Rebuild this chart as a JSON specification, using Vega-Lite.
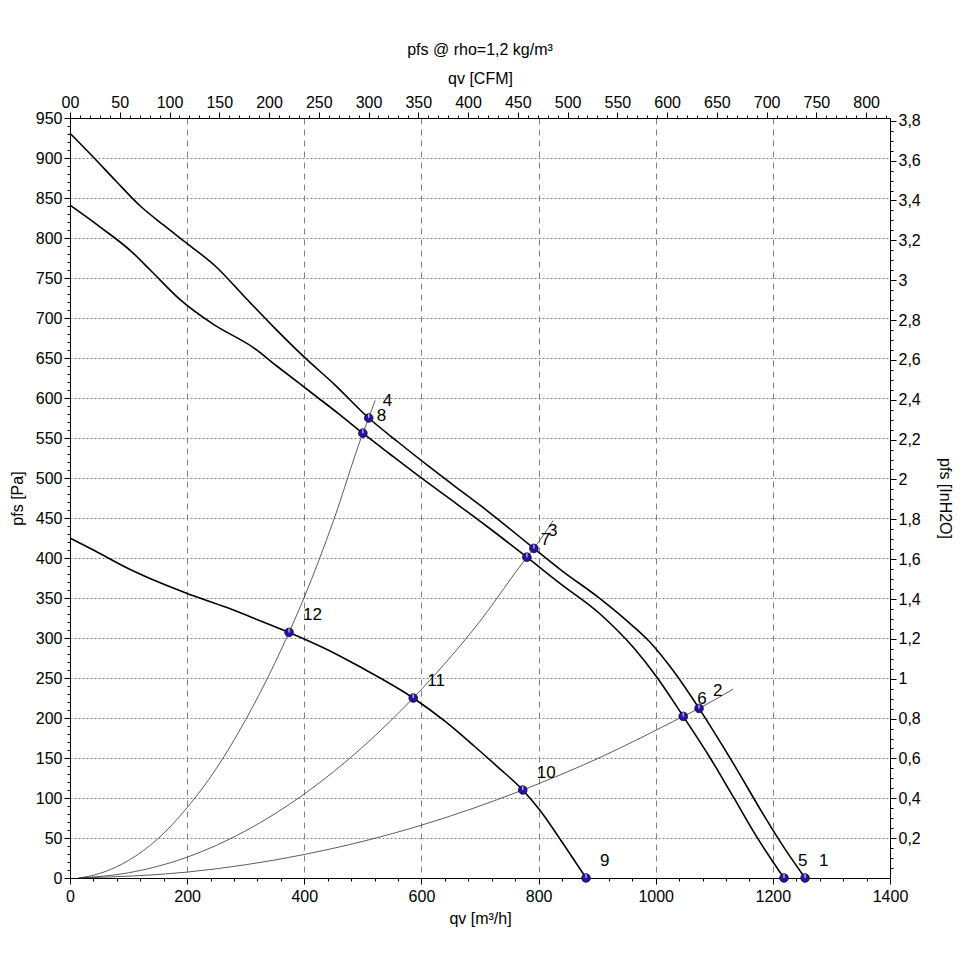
{
  "$schema": "https://vega.github.io/schema/vega-lite/v6.json",
  "width": 820,
  "height": 760,
  "autosize": {"type": "none"},
  "padding": {"left": 70, "top": 118, "right": 75, "bottom": 86},
  "background": "white",
  "title": {"text": "pfs @ rho=1,2 kg/m³", "font": "Liberation Sans", "fontSize": 16, "fontWeight": "normal", "color": "black", "offset": 12, "anchor": "middle"},
  "config": {
    "view": {"stroke": null},
    "axis": {"labelFont": "Liberation Sans", "titleFont": "Liberation Sans", "labelFontSize": 16, "titleFontSize": 16, "titleFontWeight": "normal", "labelColor": "black", "titleColor": "black", "domainColor": "black", "tickColor": "black", "domainWidth": 1, "tickWidth": 1, "labelOverlap": false, "labelFlush": false}
  },
  "datasets": {
    "fan": [
      {"id": "A", "q": 0, "p": 931}, {"id": "A", "q": 40, "p": 901}, {"id": "A", "q": 80, "p": 870}, {"id": "A", "q": 120, "p": 840}, {"id": "A", "q": 160, "p": 816}, {"id": "A", "q": 200, "p": 793}, {"id": "A", "q": 248, "p": 765}, {"id": "A", "q": 300, "p": 725}, {"id": "A", "q": 350, "p": 687}, {"id": "A", "q": 400, "p": 651}, {"id": "A", "q": 450, "p": 618}, {"id": "A", "q": 510, "p": 575}, {"id": "A", "q": 560, "p": 545}, {"id": "A", "q": 610, "p": 516}, {"id": "A", "q": 660, "p": 488}, {"id": "A", "q": 700, "p": 466}, {"id": "A", "q": 750, "p": 437}, {"id": "A", "q": 792, "p": 412}, {"id": "A", "q": 840, "p": 384}, {"id": "A", "q": 900, "p": 352}, {"id": "A", "q": 950, "p": 322}, {"id": "A", "q": 990, "p": 295}, {"id": "A", "q": 1030, "p": 259}, {"id": "A", "q": 1074, "p": 212}, {"id": "A", "q": 1100, "p": 182}, {"id": "A", "q": 1140, "p": 134}, {"id": "A", "q": 1180, "p": 84}, {"id": "A", "q": 1220, "p": 37}, {"id": "A", "q": 1255, "p": 0},
      {"id": "B", "q": 0, "p": 841}, {"id": "B", "q": 51, "p": 814}, {"id": "B", "q": 105, "p": 783}, {"id": "B", "q": 137, "p": 760}, {"id": "B", "q": 188, "p": 723}, {"id": "B", "q": 245, "p": 692}, {"id": "B", "q": 313, "p": 663}, {"id": "B", "q": 353, "p": 640}, {"id": "B", "q": 415, "p": 605}, {"id": "B", "q": 461, "p": 579}, {"id": "B", "q": 500, "p": 556}, {"id": "B", "q": 546, "p": 530}, {"id": "B", "q": 598, "p": 501}, {"id": "B", "q": 654, "p": 471}, {"id": "B", "q": 711, "p": 440}, {"id": "B", "q": 780, "p": 401}, {"id": "B", "q": 837, "p": 368}, {"id": "B", "q": 905, "p": 330}, {"id": "B", "q": 962, "p": 288}, {"id": "B", "q": 1002, "p": 251}, {"id": "B", "q": 1047, "p": 202}, {"id": "B", "q": 1093, "p": 150}, {"id": "B", "q": 1132, "p": 102}, {"id": "B", "q": 1172, "p": 52}, {"id": "B", "q": 1219, "p": 0},
      {"id": "C", "q": 0, "p": 425}, {"id": "C", "q": 40, "p": 410}, {"id": "C", "q": 102, "p": 386}, {"id": "C", "q": 154, "p": 369}, {"id": "C", "q": 199, "p": 356}, {"id": "C", "q": 268, "p": 338}, {"id": "C", "q": 313, "p": 325}, {"id": "C", "q": 374, "p": 307}, {"id": "C", "q": 438, "p": 286}, {"id": "C", "q": 495, "p": 264}, {"id": "C", "q": 586, "p": 225}, {"id": "C", "q": 640, "p": 196}, {"id": "C", "q": 690, "p": 165}, {"id": "C", "q": 730, "p": 139}, {"id": "C", "q": 773, "p": 110}, {"id": "C", "q": 802, "p": 85}, {"id": "C", "q": 840, "p": 45}, {"id": "C", "q": 881, "p": 0}
    ],
    "sys": [
      {"id": "S1", "q": 15, "p": 0}, {"id": "S1", "q": 50, "p": 5.5}, {"id": "S1", "q": 100, "p": 22}, {"id": "S1", "q": 150, "p": 49}, {"id": "S1", "q": 200, "p": 88}, {"id": "S1", "q": 250, "p": 137}, {"id": "S1", "q": 300, "p": 198}, {"id": "S1", "q": 350, "p": 269}, {"id": "S1", "q": 374, "p": 307}, {"id": "S1", "q": 400, "p": 351}, {"id": "S1", "q": 450, "p": 447}, {"id": "S1", "q": 500, "p": 556}, {"id": "S1", "q": 510, "p": 575}, {"id": "S1", "q": 521, "p": 597},
      {"id": "S2", "q": 15, "p": 0}, {"id": "S2", "q": 100, "p": 6.5}, {"id": "S2", "q": 200, "p": 26}, {"id": "S2", "q": 300, "p": 59}, {"id": "S2", "q": 400, "p": 105}, {"id": "S2", "q": 500, "p": 164}, {"id": "S2", "q": 586, "p": 225}, {"id": "S2", "q": 700, "p": 321}, {"id": "S2", "q": 780, "p": 401}, {"id": "S2", "q": 792, "p": 412}, {"id": "S2", "q": 825, "p": 447},
      {"id": "S3", "q": 15, "p": 0}, {"id": "S3", "q": 200, "p": 7.4}, {"id": "S3", "q": 400, "p": 29.4}, {"id": "S3", "q": 600, "p": 66}, {"id": "S3", "q": 773, "p": 110}, {"id": "S3", "q": 900, "p": 149}, {"id": "S3", "q": 1047, "p": 202}, {"id": "S3", "q": 1074, "p": 212}, {"id": "S3", "q": 1132, "p": 236}
    ],
    "pts": [
      {"label": "1", "q": 1255, "p": 0}, {"label": "2", "q": 1074, "p": 212}, {"label": "3", "q": 792, "p": 412}, {"label": "4", "q": 510, "p": 575},
      {"label": "5", "q": 1219, "p": 0}, {"label": "6", "q": 1047, "p": 202}, {"label": "7", "q": 780, "p": 401}, {"label": "8", "q": 500, "p": 556},
      {"label": "9", "q": 881, "p": 0}, {"label": "10", "q": 773, "p": 110}, {"label": "11", "q": 586, "p": 225}, {"label": "12", "q": 374, "p": 307}
    ],
    "ext": [{"cfm": 0, "inh": 0}]
  },
  "layer": [
    {
      "encoding": {
        "x": {"field": "q", "type": "quantitative", "scale": {"domain": [0, 1400], "nice": false, "zero": false},
          "axis": {"orient": "bottom", "title": "qv [m³/h]", "format": "d", "values": [0, 200, 400, 600, 800, 1000, 1200, 1400], "tickSize": 6, "labelPadding": 4, "titlePadding": 6, "grid": true, "gridColor": "#808080", "gridDash": [6, 5], "gridWidth": 1}},
        "y": {"field": "p", "type": "quantitative", "scale": {"domain": [0, 950], "nice": false, "zero": false},
          "axis": {"orient": "left", "title": "pfs [Pa]", "format": "d", "values": [0, 50, 100, 150, 200, 250, 300, 350, 400, 450, 500, 550, 600, 650, 700, 750, 800, 850, 900, 950], "tickSize": 6, "labelPadding": 2, "titlePadding": 10, "grid": true, "gridColor": "#808080", "gridDash": [2, 2], "gridWidth": 1}}
      },
      "layer": [
        {"data": {"name": "sys"}, "mark": {"type": "line", "interpolate": "monotone", "color": "#333333", "strokeWidth": 0.8}, "encoding": {"detail": {"field": "id"}}},
        {"data": {"name": "fan"}, "mark": {"type": "line", "interpolate": "monotone", "color": "black", "strokeWidth": 1.6}, "encoding": {"detail": {"field": "id"}}},
        {"data": {"name": "pts"}, "mark": {"type": "point", "shape": "circle", "filled": true, "size": 75, "color": "#2a12a0", "stroke": "#10083a", "strokeWidth": 0.8, "opacity": 1}},
        {"data": {"name": "pts"}, "mark": {"type": "tick", "orient": "vertical", "size": 4, "thickness": 1.4, "color": "white", "yOffset": -2}},
        {"data": {"name": "pts"}, "mark": {"type": "text", "align": "left", "baseline": "middle", "dx": 14, "dy": -17, "font": "Liberation Sans", "fontSize": 17, "color": "black"}, "encoding": {"text": {"field": "label"}}}
      ]
    },
    {
      "data": {"name": "ext"},
      "mark": {"type": "point", "opacity": 0},
      "encoding": {
        "x": {"field": "q", "type": "quantitative", "scale": {"domain": [0, 1400], "nice": false, "zero": false},
          "axis": {"orient": "bottom", "title": null, "labels": false, "domain": false, "grid": false, "tickSize": 3, "values": [40, 80, 120, 160, 240, 280, 320, 360, 440, 480, 520, 560, 640, 680, 720, 760, 840, 880, 920, 960, 1040, 1080, 1120, 1160, 1240, 1280, 1320, 1360]}},
        "y": {"field": "p", "type": "quantitative", "scale": {"domain": [0, 950], "nice": false, "zero": false},
          "axis": {"orient": "left", "title": null, "labels": false, "domain": false, "grid": false, "tickSize": 3, "values": [10, 20, 30, 40, 60, 70, 80, 90, 110, 120, 130, 140, 160, 170, 180, 190, 210, 220, 230, 240, 260, 270, 280, 290, 310, 320, 330, 340, 360, 370, 380, 390, 410, 420, 430, 440, 460, 470, 480, 490, 510, 520, 530, 540, 560, 570, 580, 590, 610, 620, 630, 640, 660, 670, 680, 690, 710, 720, 730, 740, 760, 770, 780, 790, 810, 820, 830, 840, 860, 870, 880, 890, 910, 920, 930, 940]}}
      }
    },
    {
      "data": {"name": "ext"},
      "mark": {"type": "point", "opacity": 0},
      "encoding": {
        "x": {"field": "cfm", "type": "quantitative", "scale": {"domain": [0, 824.0], "nice": false, "zero": false},
          "axis": {"orient": "top", "title": "qv [CFM]", "values": [0, 50, 100, 150, 200, 250, 300, 350, 400, 450, 500, 550, 600, 650, 700, 750, 800], "labelExpr": "datum.value == 0 ? '00' : datum.label", "tickSize": 6, "labelPadding": 2, "titlePadding": 8, "grid": false}},
        "y": {"field": "inh", "type": "quantitative", "scale": {"domain": [0, 3.8139], "nice": false, "zero": false},
          "axis": {"orient": "right", "title": "pfs [InH2O]", "values": [0.2, 0.4, 0.6, 0.8, 1, 1.2, 1.4, 1.6, 1.8, 2, 2.2, 2.4, 2.6, 2.8, 3, 3.2, 3.4, 3.6, 3.8], "labelExpr": "replace(format(datum.value, '.1~f'), '.', ',')", "tickSize": 6, "labelPadding": 2, "titlePadding": 16, "grid": false}}
      }
    },
    {
      "data": {"name": "ext"},
      "mark": {"type": "point", "opacity": 0},
      "encoding": {
        "x": {"field": "cfm", "type": "quantitative", "scale": {"domain": [0, 824.0], "nice": false, "zero": false},
          "axis": {"orient": "top", "title": null, "labels": false, "domain": false, "grid": false, "tickSize": 3, "values": [10, 20, 30, 40, 60, 70, 80, 90, 110, 120, 130, 140, 160, 170, 180, 190, 210, 220, 230, 240, 260, 270, 280, 290, 310, 320, 330, 340, 360, 370, 380, 390, 410, 420, 430, 440, 460, 470, 480, 490, 510, 520, 530, 540, 560, 570, 580, 590, 610, 620, 630, 640, 660, 670, 680, 690, 710, 720, 730, 740, 760, 770, 780, 790, 810, 820]}},
        "y": {"field": "inh", "type": "quantitative", "scale": {"domain": [0, 3.8139], "nice": false, "zero": false},
          "axis": {"orient": "right", "title": null, "labels": false, "domain": false, "grid": false, "tickSize": 3, "values": [0.05, 0.1, 0.15, 0.25, 0.3, 0.35, 0.45, 0.5, 0.55, 0.65, 0.7, 0.75, 0.85, 0.9, 0.95, 1.05, 1.1, 1.15, 1.25, 1.3, 1.35, 1.45, 1.5, 1.55, 1.65, 1.7, 1.75, 1.85, 1.9, 1.95, 2.05, 2.1, 2.15, 2.25, 2.3, 2.35, 2.45, 2.5, 2.55, 2.65, 2.7, 2.75, 2.85, 2.9, 2.95, 3.05, 3.1, 3.15, 3.25, 3.3, 3.35, 3.45, 3.5, 3.55, 3.65, 3.7, 3.75]}}
      }
    }
  ],
  "resolve": {"scale": {"x": "independent", "y": "independent"}}
}
